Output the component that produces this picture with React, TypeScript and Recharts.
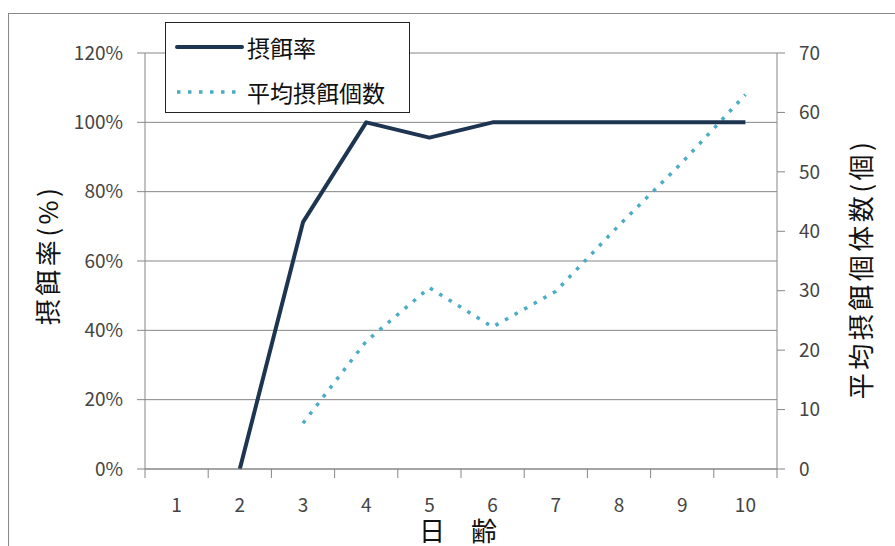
import React from 'react';
import { LineChart, Line, XAxis, YAxis, CartesianGrid, Legend } from 'recharts';

const days = [1, 2, 3, 4, 5, 6, 7, 8, 9, 10];
const feedingRate: (number | null)[] = [null, 0, 0.712, 1.0, 0.956, 1.0, 1.0, 1.0, 1.0, 1.0];
const avgCount: (number | null)[] = [null, null, 7.7, 21.5, 30.5, 23.9, 29.9, 41.0, 51.6, 63.0];
const xTicks = [0.5, 1, 1.5, 2, 2.5, 3, 3.5, 4, 4.5, 5, 5.5, 6, 6.5, 7, 7.5, 8, 8.5, 9, 9.5, 10, 10.5];
const leftTicks = [0, 0.2, 0.4, 0.6, 0.8, 1.0, 1.2];
const rightTicks = [0, 10, 20, 30, 40, 50, 60, 70];
const seriesNames = ['摂餌率', '平均摂餌個数'];
const leftLabel = '摂餌率(%)';
const rightLabel = '平均摂餌個体数(個)';
const xLabel = '日　齢';

const data = days.map((d, i) => ({ day: d, rate: feedingRate[i], count: avgCount[i] }));

const FONT = '"Noto Sans CJK JP", "Noto Sans", sans-serif';
const AXIS = '#868686';
const TICK_TEXT = '#444';
const DARK = '#1d3550';
const CYAN = '#4bacc6';

const XTick = (props: any) => {
  const { x, y, payload } = props;
  const v = payload.value;
  if (Number.isInteger(v)) {
    return (
      <text x={x} y={y + 43} textAnchor="middle" fill={TICK_TEXT} fontSize={19} fontFamily={FONT}>
        {v}
      </text>
    );
  }
  return <line x1={x} x2={x} y1={y} y2={y + 9} stroke={AXIS} strokeWidth={1} />;
};

const LegendBox = () => (
  <div
    style={{
      width: 245,
      height: 91,
      boxSizing: 'border-box',
      border: '1.5px solid #222',
      background: '#fff',
      fontFamily: FONT,
      fontSize: 23,
      color: '#111',
      position: 'relative',
    }}
  >
    <svg width={245} height={91} style={{ position: 'absolute', left: -1.5, top: -1.5 }}>
      <line x1={12} x2={77} y1={25} y2={25} stroke={DARK} strokeWidth={4} strokeLinecap="round" />
      <line x1={12} x2={74} y1={70} y2={70} stroke={CYAN} strokeWidth={3.5} strokeDasharray="3.5 7.5" />
      <text x={82} y={25} dominantBaseline="central" fontSize={23} fontFamily={FONT} fill="#111">
        {seriesNames[0]}
      </text>
      <text x={82} y={70} dominantBaseline="central" fontSize={23} fontFamily={FONT} fill="#111">
        {seriesNames[1]}
      </text>
    </svg>
  </div>
);

export default function App() {
  return (
    <div
      style={{
        position: 'absolute',
        left: 0,
        top: 0,
        width: 895,
        height: 546,
        overflow: 'hidden',
        background: '#fff',
      }}
    >
      <div
        style={{
          position: 'absolute',
          left: 8,
          top: 13,
          width: 1000,
          height: 1000,
          borderLeft: '1px solid #888',
          borderTop: '1px solid #888',
        }}
      />
      <div style={{ position: 'absolute', left: 0, top: 0 }}>
        <LineChart
          width={895}
          height={546}
          data={data}
          margin={{ top: 53, right: 0, bottom: 0, left: 0 }}
        >
          <CartesianGrid yAxisId="left" vertical={false} stroke={AXIS} strokeWidth={1} />
          <XAxis
            dataKey="day"
            type="number"
            domain={[0.5, 10.5]}
            ticks={xTicks}
            interval={0}
            height={77}
            tickSize={0}
            tickMargin={0}
            tickLine={false}
            axisLine={{ stroke: AXIS, strokeWidth: 1 }}
            tick={<XTick />}
            label={(p: any) => {
              const vb = p.viewBox;
              return (
                <text
                  x={vb.x + vb.width / 2 - 3}
                  y={vb.y + 72}
                  textAnchor="middle"
                  fontSize={26}
                  fontFamily={FONT}
                  fill="#111"
                >
                  {xLabel}
                </text>
              );
            }}
          />
          <YAxis
            yAxisId="left"
            orientation="left"
            width={145}
            domain={[0, 1.2]}
            ticks={leftTicks}
            interval={0}
            tickSize={8}
            tickMargin={14}
            tickFormatter={(v: number) => `${Math.round(v * 100)}%`}
            tick={{ fill: TICK_TEXT, fontSize: 19, fontFamily: FONT }}
            tickLine={{ stroke: AXIS }}
            axisLine={{ stroke: AXIS }}
            label={(p: any) => {
              const vb = p.viewBox;
              const cx = vb.x + 46;
              const cy = vb.y + vb.height / 2 - 6;
              return (
                <text
                  x={cx}
                  y={cy}
                  transform={`rotate(-90 ${cx} ${cy})`}
                  textAnchor="middle"
                  dominantBaseline="central"
                  fontSize={26}
                  letterSpacing={3.5}
                  fontFamily={FONT}
                  fill="#111"
                >
                  {leftLabel}
                </text>
              );
            }}
          />
          <YAxis
            yAxisId="right"
            orientation="right"
            width={118}
            domain={[0, 70]}
            ticks={rightTicks}
            interval={0}
            tickSize={8}
            tickMargin={14}
            tick={{ fill: TICK_TEXT, fontSize: 19, fontFamily: FONT }}
            tickLine={{ stroke: AXIS }}
            axisLine={{ stroke: AXIS }}
            label={(p: any) => {
              const vb = p.viewBox;
              const cx = vb.x + 82;
              const cy = vb.y + vb.height / 2 + 8;
              return (
                <text
                  x={cx}
                  y={cy}
                  transform={`rotate(-90 ${cx} ${cy})`}
                  textAnchor="middle"
                  dominantBaseline="central"
                  fontSize={26}
                  letterSpacing={3.5}
                  fontFamily={FONT}
                  fill="#111"
                >
                  {rightLabel}
                </text>
              );
            }}
          />
          <Legend
            layout="vertical"
            align="center"
            verticalAlign="middle"
            wrapperStyle={{ left: 165, top: 22, width: 245, height: 91 }}
            content={() => <LegendBox />}
          />
          <Line
            yAxisId="right"
            type="linear"
            dataKey="count"
            name={seriesNames[1]}
            stroke={CYAN}
            strokeWidth={3.5}
            strokeDasharray="3.5 7.5"
            dot={false}
            activeDot={false}
            isAnimationActive={false}
          />
          <Line
            yAxisId="left"
            type="linear"
            dataKey="rate"
            name={seriesNames[0]}
            stroke={DARK}
            strokeWidth={4}
            strokeLinejoin="round"
            dot={false}
            activeDot={false}
            isAnimationActive={false}
          />
        </LineChart>
      </div>
    </div>
  );
}
